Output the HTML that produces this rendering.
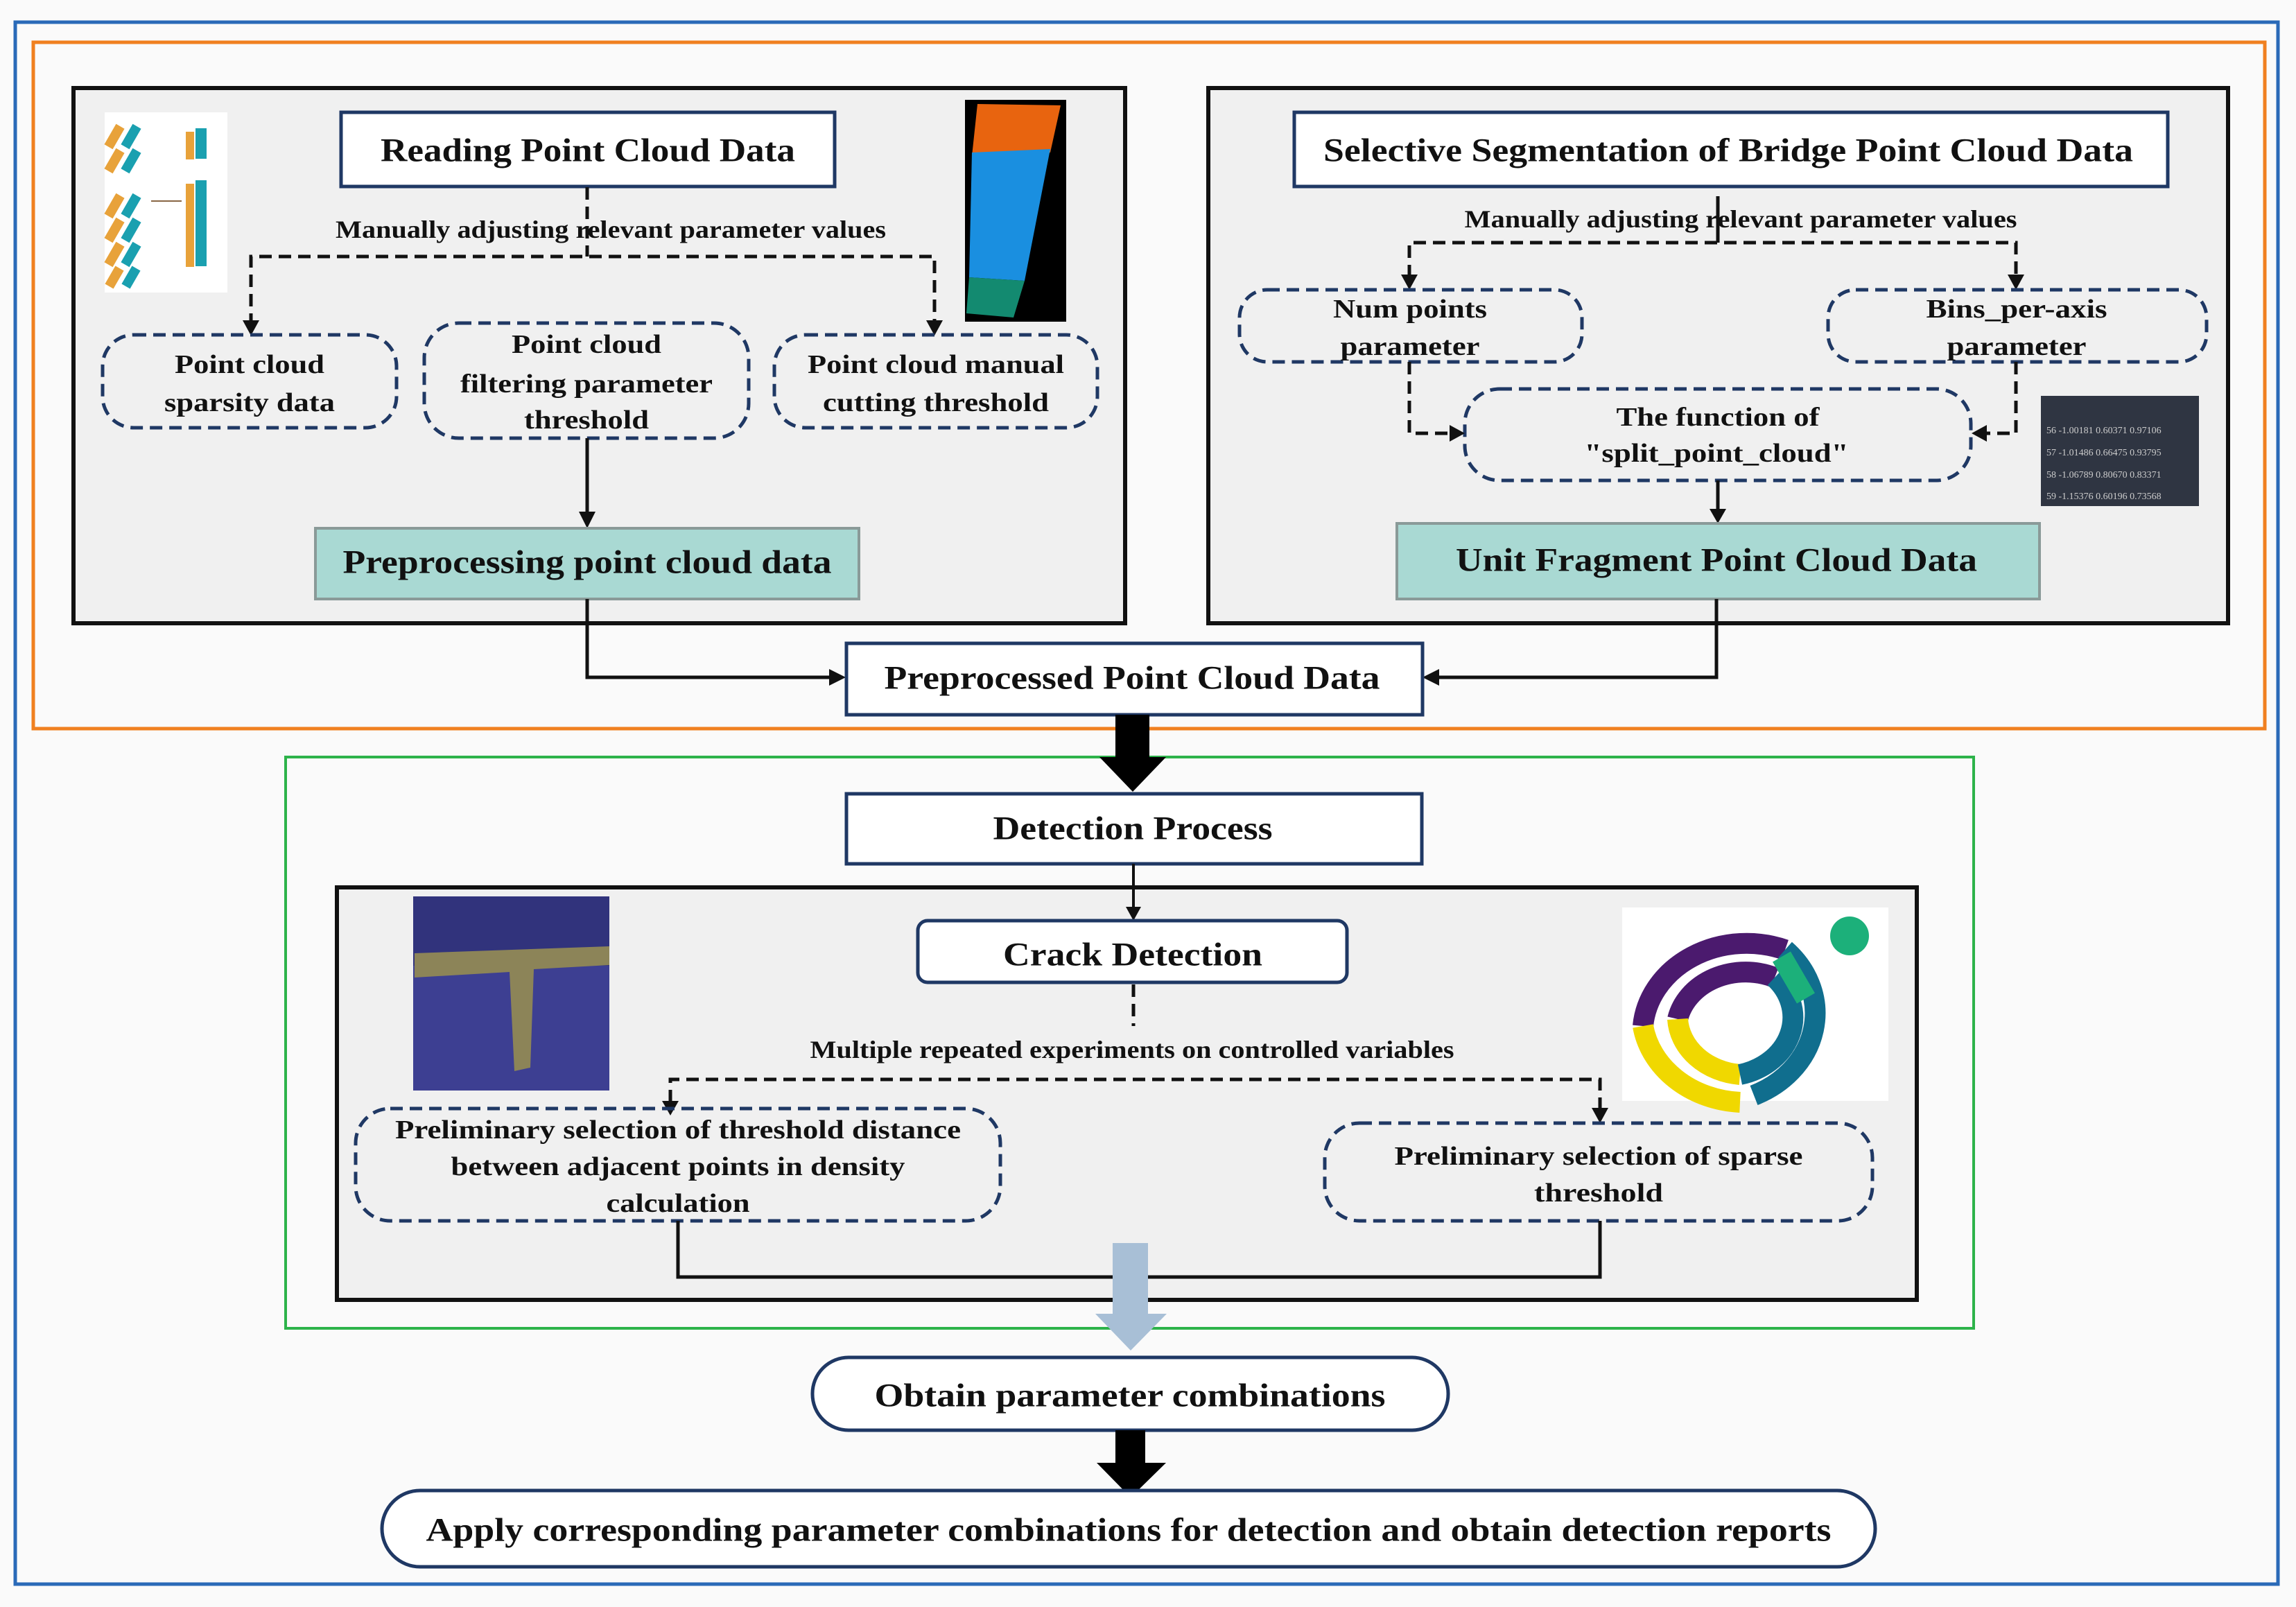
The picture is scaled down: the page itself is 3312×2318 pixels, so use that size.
<!DOCTYPE html>
<html><head><meta charset="utf-8"><style>
html,body{margin:0;padding:0;background:#fff;}
svg{display:block;}
text{font-family:"Liberation Serif",serif;font-weight:bold;fill:#111;}
</style></head><body>
<svg width="3312" height="2318" viewBox="0 0 3312 2318" xmlns="http://www.w3.org/2000/svg">
<rect x="0" y="0" width="3312" height="2318" fill="#fafafa"/>
<!-- outer borders -->
<rect x="22" y="32" width="3264" height="2253" fill="none" stroke="#2a6ab8" stroke-width="5"/>
<rect x="48" y="61" width="3219" height="990" fill="none" stroke="#f08020" stroke-width="5"/>
<rect x="412" y="1092" width="2435" height="824" fill="none" stroke="#2db34a" stroke-width="4"/>

<!-- panels -->
<rect x="106" y="127" width="1517" height="772" fill="#f0f0f0" stroke="#111" stroke-width="6"/>
<rect x="1743" y="127" width="1471" height="772" fill="#f0f0f0" stroke="#111" stroke-width="6"/>
<rect x="486" y="1280" width="2279" height="595" fill="#f0f0f0" stroke="#111" stroke-width="6"/>

<!-- images left panel -->
<rect x="151" y="162" width="177" height="260" fill="#fff"/>
<g fill="#e8a23a">
<rect x="158" y="180" width="14" height="34" transform="rotate(30 165 197)"/>
<rect x="158" y="215" width="14" height="34" transform="rotate(30 165 232)"/>
<rect x="158" y="280" width="14" height="34" transform="rotate(30 165 297)"/>
<rect x="158" y="315" width="14" height="34" transform="rotate(30 165 332)"/>
<rect x="158" y="350" width="14" height="34" transform="rotate(30 165 367)"/>
<rect x="158" y="385" width="14" height="30" transform="rotate(30 165 400)"/>
<rect x="268" y="190" width="12" height="40" /><rect x="268" y="265" width="12" height="40"/><rect x="268" y="305" width="12" height="40"/><rect x="268" y="345" width="12" height="40"/>
</g>
<g fill="#1aa0b0">
<rect x="182" y="180" width="14" height="34" transform="rotate(30 189 197)"/>
<rect x="182" y="215" width="14" height="34" transform="rotate(30 189 232)"/>
<rect x="182" y="280" width="14" height="34" transform="rotate(30 189 297)"/>
<rect x="182" y="315" width="14" height="34" transform="rotate(30 189 332)"/>
<rect x="182" y="350" width="14" height="34" transform="rotate(30 189 367)"/>
<rect x="182" y="385" width="14" height="30" transform="rotate(30 189 400)"/>
<rect x="282" y="185" width="16" height="44"/><rect x="282" y="260" width="16" height="44"/><rect x="282" y="300" width="16" height="44"/><rect x="282" y="340" width="16" height="44"/>
</g>
<line x1="218" y1="290" x2="262" y2="290" stroke="#864" stroke-width="2"/>

<rect x="1392" y="144" width="146" height="320" fill="#000"/>
<polygon points="1410,150 1530,152 1515,220 1402,225" fill="#e8640f"/>
<polygon points="1402,220 1515,215 1478,405 1398,400" fill="#1a8fe0"/>
<polygon points="1398,400 1478,405 1462,458 1394,452" fill="#138a70"/>

<!-- Reading box -->
<rect x="492" y="162" width="712" height="107" fill="#fff" stroke="#1f3864" stroke-width="5"/>
<text x="848" y="217" text-anchor="middle" dominant-baseline="central" font-size="48" textLength="598" lengthAdjust="spacingAndGlyphs">Reading Point Cloud Data</text>
<line x1="847" y1="270" x2="847" y2="370" stroke="#111" stroke-width="5" stroke-dasharray="18 10"/>
<text x="881" y="331" text-anchor="middle" dominant-baseline="central" font-size="36" textLength="794" lengthAdjust="spacingAndGlyphs">Manually adjusting relevant parameter values</text>
<polyline points="362,470 362,370 1348,370 1348,470" fill="none" stroke="#111" stroke-width="5" stroke-dasharray="18 10"/>
<polygon points="350,462 374,462 362,484" fill="#111"/>
<polygon points="1336,462 1360,462 1348,484" fill="#111"/>

<g fill="none" stroke="#1f3864" stroke-width="5" stroke-dasharray="18 10">
<rect x="148" y="483" width="424" height="134" rx="45"/>
<rect x="612" y="466" width="468" height="166" rx="50"/>
<rect x="1117" y="483" width="466" height="134" rx="45"/>
</g>
<g font-size="38" text-anchor="middle" dominant-baseline="central">
<text x="360" y="526" dominant-baseline="central" textLength="216" lengthAdjust="spacingAndGlyphs">Point cloud</text>
<text x="360" y="581" dominant-baseline="central" textLength="246" lengthAdjust="spacingAndGlyphs">sparsity data</text>
<text x="846" y="497" dominant-baseline="central" textLength="216" lengthAdjust="spacingAndGlyphs">Point cloud</text>
<text x="846" y="554" dominant-baseline="central" textLength="364" lengthAdjust="spacingAndGlyphs">filtering parameter</text>
<text x="846" y="606" dominant-baseline="central" textLength="180" lengthAdjust="spacingAndGlyphs">threshold</text>
<text x="1350" y="526" dominant-baseline="central" textLength="370" lengthAdjust="spacingAndGlyphs">Point cloud manual</text>
<text x="1350" y="581" dominant-baseline="central" textLength="326" lengthAdjust="spacingAndGlyphs">cutting threshold</text>
</g>
<line x1="847" y1="632" x2="847" y2="742" stroke="#111" stroke-width="5"/>
<polygon points="835,738 859,738 847,762" fill="#111"/>
<rect x="455" y="762" width="784" height="102" fill="#a9d9d3" stroke="#8a9a98" stroke-width="4"/>
<text x="847" y="811" text-anchor="middle" dominant-baseline="central" font-size="48" textLength="705" lengthAdjust="spacingAndGlyphs">Preprocessing point cloud data</text>
<polyline points="847,864 847,977 1200,977" fill="none" stroke="#111" stroke-width="5"/>
<polygon points="1196,965 1196,989 1220,977" fill="#111"/>

<!-- Right panel -->
<rect x="1867" y="162" width="1260" height="107" fill="#fff" stroke="#1f3864" stroke-width="5"/>
<text x="2493" y="217" text-anchor="middle" dominant-baseline="central" font-size="48" textLength="1168" lengthAdjust="spacingAndGlyphs">Selective Segmentation of Bridge Point Cloud Data</text>
<line x1="2478" y1="283" x2="2478" y2="350" stroke="#111" stroke-width="5"/>
<text x="2511" y="316" text-anchor="middle" dominant-baseline="central" font-size="36" textLength="797" lengthAdjust="spacingAndGlyphs">Manually adjusting relevant parameter values</text>
<polyline points="2033,400 2033,350 2908,350 2908,400" fill="none" stroke="#111" stroke-width="5" stroke-dasharray="18 10"/>
<polygon points="2021,396 2045,396 2033,418" fill="#111"/>
<polygon points="2896,396 2920,396 2908,418" fill="#111"/>
<g fill="none" stroke="#1f3864" stroke-width="5" stroke-dasharray="18 10">
<rect x="1788" y="418" width="494" height="104" rx="40"/>
<rect x="2637" y="418" width="546" height="104" rx="40"/>
<rect x="2113" y="561" width="730" height="132" rx="50"/>
</g>
<g font-size="38" text-anchor="middle">
<text x="2034" y="446" dominant-baseline="central" textLength="222" lengthAdjust="spacingAndGlyphs">Num points</text>
<text x="2034" y="500" dominant-baseline="central" textLength="201" lengthAdjust="spacingAndGlyphs">parameter</text>
<text x="2909" y="446" dominant-baseline="central" textLength="261" lengthAdjust="spacingAndGlyphs">Bins_per-axis</text>
<text x="2909" y="500" dominant-baseline="central" textLength="201" lengthAdjust="spacingAndGlyphs">parameter</text>
<text x="2478" y="602" dominant-baseline="central" textLength="293" lengthAdjust="spacingAndGlyphs">The function of</text>
<text x="2476" y="654" dominant-baseline="central" textLength="381" lengthAdjust="spacingAndGlyphs">"split_point_cloud"</text>
</g>
<polyline points="2033,522 2033,625 2095,625" fill="none" stroke="#111" stroke-width="5" stroke-dasharray="18 10"/>
<polygon points="2091,613 2091,637 2113,625" fill="#111"/>
<polyline points="2908,522 2908,625 2862,625" fill="none" stroke="#111" stroke-width="5" stroke-dasharray="18 10"/>
<polygon points="2866,613 2866,637 2844,625" fill="#111"/>
<line x1="2478" y1="693" x2="2478" y2="738" stroke="#111" stroke-width="5"/>
<polygon points="2466,734 2490,734 2478,755" fill="#111"/>
<rect x="2944" y="571" width="228" height="159" fill="#2f3542"/>
<g font-size="14" fill="#ccc" font-family="Liberation Mono,monospace">
<text x="2952" y="625" style="fill:#ccc;font-weight:normal">56 -1.00181 0.60371 0.97106</text>
<text x="2952" y="657" style="fill:#ccc;font-weight:normal">57 -1.01486 0.66475 0.93795</text>
<text x="2952" y="689" style="fill:#ccc;font-weight:normal">58 -1.06789 0.80670 0.83371</text>
<text x="2952" y="720" style="fill:#ccc;font-weight:normal">59 -1.15376 0.60196 0.73568</text>
</g>
<rect x="2015" y="755" width="927" height="109" fill="#a9d9d3" stroke="#8a9a98" stroke-width="4"/>
<text x="2476" y="808" text-anchor="middle" dominant-baseline="central" font-size="48" textLength="752" lengthAdjust="spacingAndGlyphs">Unit Fragment Point Cloud Data</text>
<polyline points="2476,864 2476,977 2072,977" fill="none" stroke="#111" stroke-width="5"/>
<polygon points="2076,965 2076,989 2052,977" fill="#111"/>

<!-- Preprocessed -->
<rect x="1221" y="928" width="831" height="103" fill="#fff" stroke="#1f3864" stroke-width="5"/>
<text x="1633" y="978" text-anchor="middle" dominant-baseline="central" font-size="48" textLength="715" lengthAdjust="spacingAndGlyphs">Preprocessed Point Cloud Data</text>

<!-- big arrow 1 -->
<rect x="1609" y="1031" width="49" height="65" fill="#000"/>
<polygon points="1586,1092 1682,1092 1634,1142" fill="#000"/>

<rect x="1221" y="1145" width="830" height="101" fill="#fff" stroke="#1f3864" stroke-width="5"/>
<text x="1634" y="1195" text-anchor="middle" dominant-baseline="central" font-size="48" textLength="403" lengthAdjust="spacingAndGlyphs">Detection Process</text>
<line x1="1635" y1="1246" x2="1635" y2="1312" stroke="#111" stroke-width="4"/>
<polygon points="1624,1308 1646,1308 1635,1328" fill="#111"/>

<!-- images lower -->
<rect x="596" y="1293" width="283" height="280" fill="#3d3f92"/>
<rect x="596" y="1293" width="283" height="100" fill="#2a2b6e" opacity="0.6"/>
<polygon points="598,1375 879,1365 879,1392 770,1398 765,1540 742,1545 735,1402 598,1410" fill="#8c8458"/>
<rect x="2340" y="1309" width="384" height="279" fill="#fff"/>
<g fill="none" stroke-width="30">
<path d="M2370,1480 A150,130 0 0 1 2575,1370" stroke="#4b1a6e"/>
<path d="M2370,1480 A150,130 0 0 0 2510,1590" stroke="#f0d800"/>
<path d="M2575,1370 A150,130 0 0 1 2530,1580" stroke="#106e8e"/>
<path d="M2420,1470 A100,85 0 0 1 2560,1410" stroke="#4b1a6e"/>
<path d="M2420,1470 A100,85 0 0 0 2510,1550" stroke="#f0d800"/>
<path d="M2560,1410 A100,85 0 0 1 2510,1550" stroke="#106e8e"/>
<path d="M2570,1380 L2605,1440" stroke="#1cb07a"/>
</g>
<circle cx="2668" cy="1350" r="28" fill="#1cb07a"/>

<rect x="1324" y="1328" width="619" height="89" rx="14" fill="#fff" stroke="#1f3864" stroke-width="5"/>
<text x="1634" y="1377" text-anchor="middle" dominant-baseline="central" font-size="48" textLength="374" lengthAdjust="spacingAndGlyphs">Crack Detection</text>
<line x1="1635" y1="1420" x2="1635" y2="1480" stroke="#111" stroke-width="5" stroke-dasharray="18 10"/>
<text x="1633" y="1514" text-anchor="middle" dominant-baseline="central" font-size="36" textLength="929" lengthAdjust="spacingAndGlyphs">Multiple repeated experiments on controlled variables</text>
<polyline points="967,1590 967,1557 2308,1557 2308,1600" fill="none" stroke="#111" stroke-width="5" stroke-dasharray="18 10"/>
<polygon points="955,1588 979,1588 967,1609" fill="#111"/>
<polygon points="2296,1598 2320,1598 2308,1620" fill="#111"/>
<g fill="none" stroke="#1f3864" stroke-width="5" stroke-dasharray="18 10">
<rect x="513" y="1599" width="930" height="162" rx="50"/>
<rect x="1911" y="1620" width="790" height="141" rx="50"/>
</g>
<g font-size="38" text-anchor="middle">
<text x="978" y="1630" dominant-baseline="central" textLength="816" lengthAdjust="spacingAndGlyphs">Preliminary selection of threshold distance</text>
<text x="978" y="1683" dominant-baseline="central" textLength="655" lengthAdjust="spacingAndGlyphs">between adjacent points in density</text>
<text x="978" y="1736" dominant-baseline="central" textLength="207" lengthAdjust="spacingAndGlyphs">calculation</text>
<text x="2306" y="1668" dominant-baseline="central" textLength="589" lengthAdjust="spacingAndGlyphs">Preliminary selection of sparse</text>
<text x="2306" y="1721" dominant-baseline="central" textLength="186" lengthAdjust="spacingAndGlyphs">threshold</text>
</g>
<polyline points="978,1761 978,1842 2308,1842 2308,1761" fill="none" stroke="#111" stroke-width="5"/>

<!-- light blue arrow -->
<rect x="1605" y="1793" width="51" height="104" fill="#a8bfd6"/>
<polygon points="1580,1895 1683,1895 1631,1948" fill="#a8bfd6"/>

<rect x="1172" y="1958" width="917" height="105" rx="52" fill="#fff" stroke="#1f3864" stroke-width="5"/>
<text x="1630" y="2013" text-anchor="middle" dominant-baseline="central" font-size="48" textLength="737" lengthAdjust="spacingAndGlyphs">Obtain parameter combinations</text>

<rect x="1609" y="2063" width="43" height="51" fill="#000"/>
<polygon points="1582,2110 1682,2110 1631,2160" fill="#000"/>

<rect x="551" y="2150" width="2154" height="110" rx="55" fill="#fff" stroke="#1f3864" stroke-width="5"/>
<text x="1628" y="2207" text-anchor="middle" dominant-baseline="central" font-size="48" textLength="2027" lengthAdjust="spacingAndGlyphs">Apply corresponding parameter combinations for detection and obtain detection reports</text>
</svg>
</body></html>
